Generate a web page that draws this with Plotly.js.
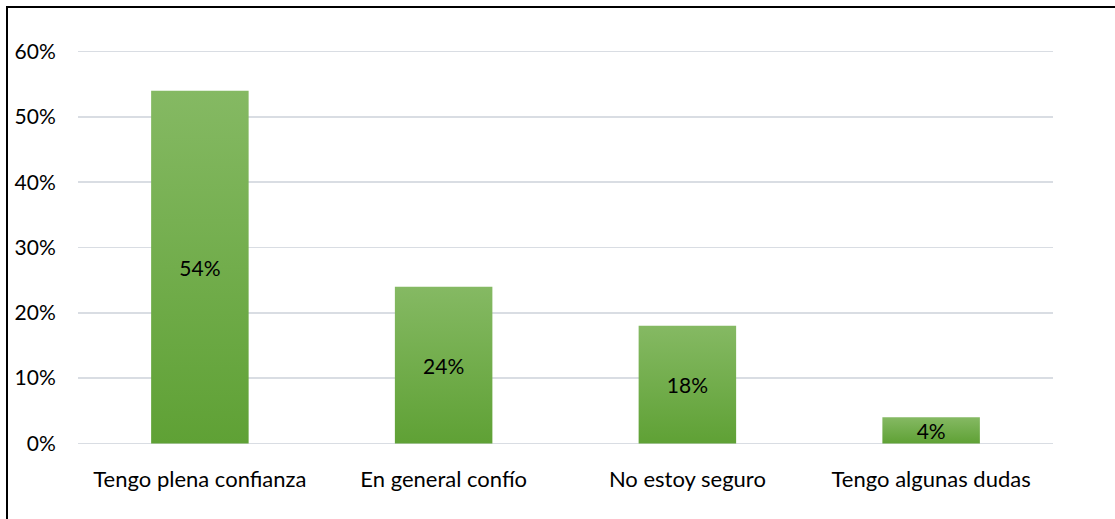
<!DOCTYPE html>
<html>
<head>
<meta charset="utf-8">
<script src="https://cdn.plot.ly/plotly-3.0.1.min.js"></script>
<style>
html,body{margin:0;padding:0;background:#fff;}
#wrap{position:relative;width:1115px;height:519px;overflow:hidden;}
#frame{position:absolute;left:6px;top:6px;width:1115px;height:520px;border-left:2px solid #000;border-top:2px solid #000;pointer-events:none;}
#chart{position:absolute;left:0;top:0;width:1115px;height:519px;}
</style>
</head>
<body>
<div id="wrap"><div id="chart"></div><div id="frame"></div></div>
<script>
const categories = ["Tengo plena confianza", "En general confío", "No estoy seguro", "Tengo algunas dudas"];
const values = [0.54, 0.24, 0.18, 0.04];
const labels = ["54%", "24%", "18%", "4%"];
const yTickVals = [0, 0.1, 0.2, 0.3, 0.4, 0.5, 0.6];
const yTickText = ["0%", "10%", "20%", "30%", "40%", "50%", "60%"];

const FONT = "Lato, 'Open Sans', sans-serif";
const trace = {
  type: 'bar', x: categories, y: values, text: labels,
  textposition: 'inside', insidetextanchor: 'middle', constraintext: 'none',
  textfont: {family: FONT, size: 21, color: '#000'},
  marker: {color: '#72ad4a', line: {width: 0}},
  width: 0.4, hoverinfo: 'none'
};
const layout = {
  width: 1115, height: 519,
  margin: {l: 78, r: 62, t: 49.4, b: 73.4, pad: 0},
  paper_bgcolor: '#fff', plot_bgcolor: '#fff',
  font: {family: FONT, size: 21, color: '#000'},
  showlegend: false,
  bargap: 0.6,
  xaxis: {type: 'category', showgrid: false, zeroline: false, showline: false,
    ticks: 'outside', ticklen: 13.5, tickcolor: 'rgba(0,0,0,0)', tickfont: {family: FONT, size: 22, color: '#000'}},
  yaxis: {range: [-0.004, 0.604], tickvals: yTickVals, ticktext: yTickText, showgrid: true,
    gridcolor: '#d9dde3', gridwidth: 1.6, zeroline: false, showline: false,
    ticks: 'outside', ticklen: 17, tickcolor: 'rgba(0,0,0,0)', tickfont: {family: FONT, size: 21, color: '#000'}}
};
Plotly.newPlot('chart', [trace], layout, {staticPlot: true, displayModeBar: false}).then(function(gd){
  const svg = gd.querySelector('svg.main-svg');
  const ns = 'http://www.w3.org/2000/svg';
  let defs = svg.querySelector('defs');
  if (!defs) { defs = document.createElementNS(ns, 'defs'); svg.insertBefore(defs, svg.firstChild); }
  const g = document.createElementNS(ns, 'linearGradient');
  g.setAttribute('id', 'barGrad'); g.setAttribute('x1', '0'); g.setAttribute('y1', '0'); g.setAttribute('x2', '0'); g.setAttribute('y2', '1');
  [['0', '#85b963'], ['1', '#5fa135']].forEach(function(s){
    const st = document.createElementNS(ns, 'stop'); st.setAttribute('offset', s[0]); st.setAttribute('stop-color', s[1]); g.appendChild(st);
  });
  defs.appendChild(g);
  gd.querySelectorAll('.bars .point path').forEach(function(p){ p.style.fill = 'url(#barGrad)'; });
});
</script>
</body>
</html>
